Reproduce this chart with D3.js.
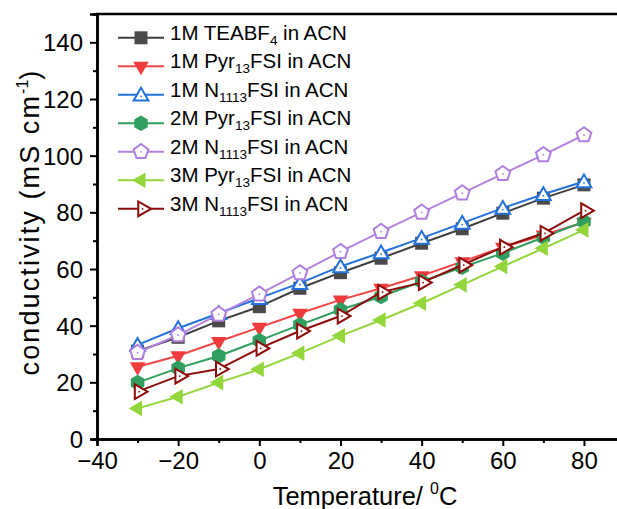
<!DOCTYPE html>
<html>
<head>
<meta charset="utf-8">
<script src="https://cdn.jsdelivr.net/npm/d3@7"></script>
<style>
  html, body { margin: 0; padding: 0; background: #fff; }
  svg { display: block; font-family: "Liberation Sans", Arial, sans-serif; }
</style>
</head>
<body>
<svg id="chart" width="617" height="509"></svg>
<script>
const temperatures = [-30, -20, -10, 0, 10, 20, 30, 40, 50, 60, 70, 80];
const teabf4_1M   = [31.0, 35.9, 41.7, 46.7, 53.2, 58.7, 63.8, 69.1, 74.2, 79.7, 85.0, 89.7];
const pyr13_1M    = [25.5, 29.4, 34.4, 39.4, 44.4, 49.1, 53.2, 57.6, 62.6, 67.7, 72.0, 76.4];
const n1113_1M    = [33.2, 39.1, 44.4, 49.7, 55.0, 60.9, 65.8, 70.9, 76.2, 81.5, 86.4, 90.9];
const pyr13_2M    = [19.9, 25.0, 29.3, 34.7, 40.3, 45.6, 50.3, 55.6, 60.6, 65.6, 71.2, 76.7];
const n1113_2M    = [30.5, 36.7, 44.0, 51.1, 58.6, 66.1, 73.2, 80.0, 86.8, 93.6, 100.3, 107.3];
const pyr13_3M    = [10.8, 14.9, 19.9, 24.6, 30.3, 36.4, 42.0, 47.9, 54.4, 60.9, 67.3, 73.8];
const n1113_3M    = [16.7, 22.2, 24.7, 32.0, 38.1, 43.4, 51.8, 55.2, 61.4, 67.7, 72.6, 80.6];

const xTicks = [-40, -20, 0, 20, 40, 60, 80];
const yTicks = [0, 20, 40, 60, 80, 100, 120, 140];

// legend label pieces: [text, isSubscript]
const seriesInfo = [
  { name: [["1M TEABF", false], ["4", true], [" in ACN", false]], values: teabf4_1M, color: "#3f3f3f", mcolor: "#4a4a4a", marker: "square" },
  { name: [["1M Pyr", false], ["13", true], ["FSI in ACN", false]], values: pyr13_1M, color: "#f24646", mcolor: "#f03c3c", marker: "tridown" },
  { name: [["1M N", false], ["1113", true], ["FSI in ACN", false]], values: n1113_1M, color: "#2272dc", mcolor: "#2272dc", marker: "triup" },
  { name: [["2M Pyr", false], ["13", true], ["FSI in ACN", false]], values: pyr13_2M, color: "#2f9e5e", mcolor: "#2f9e5e", marker: "hexagon" },
  { name: [["2M N", false], ["1113", true], ["FSI in ACN", false]], values: n1113_2M, color: "#b482e0", mcolor: "#b07fe0", marker: "pentagon" },
  { name: [["3M Pyr", false], ["13", true], ["FSI in ACN", false]], values: pyr13_3M, color: "#92d63c", mcolor: "#92d63c", marker: "trileft" },
  { name: [["3M N", false], ["1113", true], ["FSI in ACN", false]], values: n1113_3M, color: "#8e0b0b", mcolor: "#8e0b0b", marker: "triright" }
];

const svg = d3.select("#chart");
const mLeft = 97, mTop = 14, mBottom = 439;
const x = d3.scaleLinear().domain([-40, 90]).range([mLeft, mLeft + 130 * 4.058]);
const y = d3.scaleLinear().domain([0, 150]).range([mBottom, mTop]);

// markers
function polyPts(n, r, rot) {
  const pts = [];
  for (let i = 0; i < n; i++) {
    const a = rot + i * 2 * Math.PI / n;
    pts.push([r * Math.cos(a), r * Math.sin(a)]);
  }
  return pts.map(p => p.join(",")).join(" ");
}
function drawMarker(g, type, cx, cy, col) {
  const s = g.append("g").attr("transform", `translate(${cx},${cy})`);
  if (type === "square") {
    s.append("rect").attr("x", -6.5).attr("y", -6.5).attr("width", 13).attr("height", 13).attr("fill", col);
  } else if (type === "tridown") {
    s.append("polygon").attr("points", polyPts(3, 9, Math.PI / 2)).attr("fill", col);
  } else if (type === "triup") {
    s.append("polygon").attr("points", polyPts(3, 8.5, -Math.PI / 2)).attr("transform", "translate(0,1.5)")
      .attr("fill", "#fff").attr("stroke", col).attr("stroke-width", 2);
    s.append("circle").attr("r", 0.9).attr("cy", 1.5).attr("fill", col);
  } else if (type === "hexagon") {
    s.append("polygon").attr("points", polyPts(6, 7.8, Math.PI / 6)).attr("fill", col);
  } else if (type === "pentagon") {
    s.append("polygon").attr("points", polyPts(5, 7.8, -Math.PI / 2))
      .attr("fill", "#fff").attr("stroke", col).attr("stroke-width", 2);
    s.append("circle").attr("r", 0.9).attr("fill", col);
  } else if (type === "trileft") {
    s.append("polygon").attr("points", polyPts(3, 9, Math.PI)).attr("fill", col);
  } else if (type === "triright") {
    s.append("polygon").attr("points", polyPts(3, 8.5, 0)).attr("transform", "translate(1.5,0)")
      .attr("fill", "#fff").attr("stroke", col).attr("stroke-width", 2);
    s.append("circle").attr("r", 0.9).attr("cx", 1.5).attr("fill", col);
  }
}

// series
const line = d3.line().x((d, i) => x(temperatures[i])).y(d => y(d));
const plot = svg.append("g");
seriesInfo.forEach(s => {
  plot.append("path").datum(s.values).attr("d", line)
    .attr("fill", "none").attr("stroke", s.color).attr("stroke-width", 2);
  s.values.forEach((v, i) => drawMarker(plot, s.marker, x(temperatures[i]), y(v), s.mcolor));
});

// axes
const axisW = 2.5;
const xAxis = d3.axisBottom(x).tickValues(xTicks).tickSize(7).tickPadding(3)
  .tickFormat(d => d < 0 ? "\u2212" + Math.abs(d) : d);
const xg = svg.append("g").attr("transform", `translate(0,${mBottom})`).call(xAxis);
const xMinor = svg.append("g").attr("transform", `translate(0,${mBottom})`)
  .call(d3.axisBottom(x).tickValues([-30, -10, 10, 30, 50, 70, 90]).tickSize(4).tickFormat(""));
const yAxis = d3.axisLeft(y).tickValues(yTicks).tickSize(7).tickPadding(7);
const yg = svg.append("g").attr("transform", `translate(${mLeft},0)`).call(yAxis);
const yMinor = svg.append("g").attr("transform", `translate(${mLeft},0)`)
  .call(d3.axisLeft(y).tickValues([10, 30, 50, 70, 90, 110, 130]).tickSize(4).tickFormat(""));
[xg, xMinor, yg, yMinor].forEach(g => {
  g.select(".domain").attr("stroke", "#000").attr("stroke-width", axisW);
  g.selectAll(".tick line").attr("stroke", "#000").attr("stroke-width", 2);
});
xg.selectAll(".tick text").attr("font-size", 24).attr("fill", "#000").attr("dy", "0.85em");
yg.selectAll(".tick text").attr("font-size", 24).attr("fill", "#000").attr("dy", "0.35em");
// top frame
svg.append("line").attr("x1", mLeft - 1).attr("x2", 617).attr("y1", mTop).attr("y2", mTop)
  .attr("stroke", "#000").attr("stroke-width", axisW);

// axis titles
const xt = svg.append("text").attr("x", 365).attr("y", 505).attr("text-anchor", "middle")
  .attr("font-size", 25.5).attr("fill", "#000");
xt.append("tspan").text("Temperature/ ");
xt.append("tspan").attr("font-size", 16).attr("dy", -11).text("0");
xt.append("tspan").attr("dy", 11).text("C");

const yt = svg.append("text").attr("transform", "translate(39,222) rotate(-90)")
  .attr("text-anchor", "middle").attr("font-size", 27).attr("letter-spacing", 2.1).attr("fill", "#000");
yt.append("tspan").text("conductivity (mS cm");
yt.append("tspan").attr("font-size", 16).attr("dy", -11).attr("letter-spacing", 0).text("-1");
yt.append("tspan").attr("dy", 11).text(")");

// legend
const lg = svg.append("g");
seriesInfo.forEach((s, i) => {
  const ly = 37.8 + i * 28.5;
  lg.append("line").attr("x1", 118).attr("x2", 164).attr("y1", ly).attr("y2", ly)
    .attr("stroke", s.color).attr("stroke-width", 2);
  drawMarker(lg, s.marker, 141, ly, s.mcolor);
  const t = lg.append("text").attr("x", 170).attr("y", ly + 7).attr("font-size", 20.5).attr("fill", "#000");
  s.name.forEach(([txt, sub]) => {
    if (sub) t.append("tspan").attr("font-size", 13.5).attr("dy", 5).text(txt);
    else t.append("tspan").attr("font-size", 20.5).attr("dy", t.selectAll("tspan").size() ? -5 : 0).text(txt);
  });
});
</script>
</body>
</html>
